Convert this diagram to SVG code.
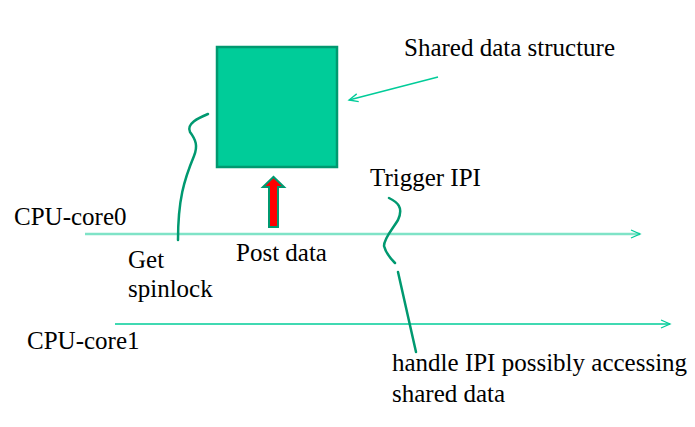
<svg xmlns="http://www.w3.org/2000/svg" width="695" height="427" viewBox="0 0 695 427">
<style>
.squig{fill:none;stroke:#009970;stroke-width:2.5;stroke-linecap:round}
.tl{fill:none;stroke-width:1.5}
</style>
<defs>
<marker id="open" markerWidth="12" markerHeight="10" refX="10" refY="5" orient="auto" markerUnits="userSpaceOnUse">
<path d="M1,1 L10,5 L1,9" fill="none" stroke="#00cc99" stroke-width="1.3"/>
</marker>
</defs>
<rect width="695" height="427" fill="#fff"/>
<g id="shared-data-structure">
<rect x="217" y="47" width="120" height="120" fill="#00cc99" stroke="#009970" stroke-width="2.5"/>
</g>
<g id="post-arrow">
<path d="M269,227 L269,187 L263,187 L273.5,177 L284,187 L278,187 L278,227 Z" fill="#ff0000" stroke="#009970" stroke-width="2"/>
</g>
<g id="connectors">
<line x1="85" y1="234" x2="640" y2="234" stroke="#7fe3c7" stroke-width="2.5" marker-end="url(#open)"/>
<line x1="115" y1="324" x2="670" y2="324" stroke="#00cc99" stroke-width="1.5" marker-end="url(#open)"/>
<line x1="438" y1="77" x2="349" y2="100" class="tl" stroke="#00cc99" marker-end="url(#open)"/>
<path class="squig" d="M208,114 C198,118 186,124 190,132 C196,140 198,146 194,156 C184,180 178,200 178,240"/>
<path class="squig" d="M389,198 C397,202 404,207 398,220 C392,230 384,238 384,246 C386,254 392,260 395,263"/>
<line class="squig" x1="398" y1="272" x2="416" y2="352"/>
</g>
<g id="labels" font-family="'Liberation Serif', 'DejaVu Serif', serif" font-size="25" fill="#000">
<text x="404" y="56">Shared data structure</text>
<text x="370" y="186">Trigger IPI</text>
<text x="14" y="225">CPU-core0</text>
<text x="236" y="261">Post data</text>
<text x="128" y="268">Get</text>
<text x="128" y="297">spinlock</text>
<text x="27" y="349">CPU-core1</text>
<text x="392" y="371">handle IPI possibly accessing</text>
<text x="392" y="402">shared data</text>
</g>
</svg>
